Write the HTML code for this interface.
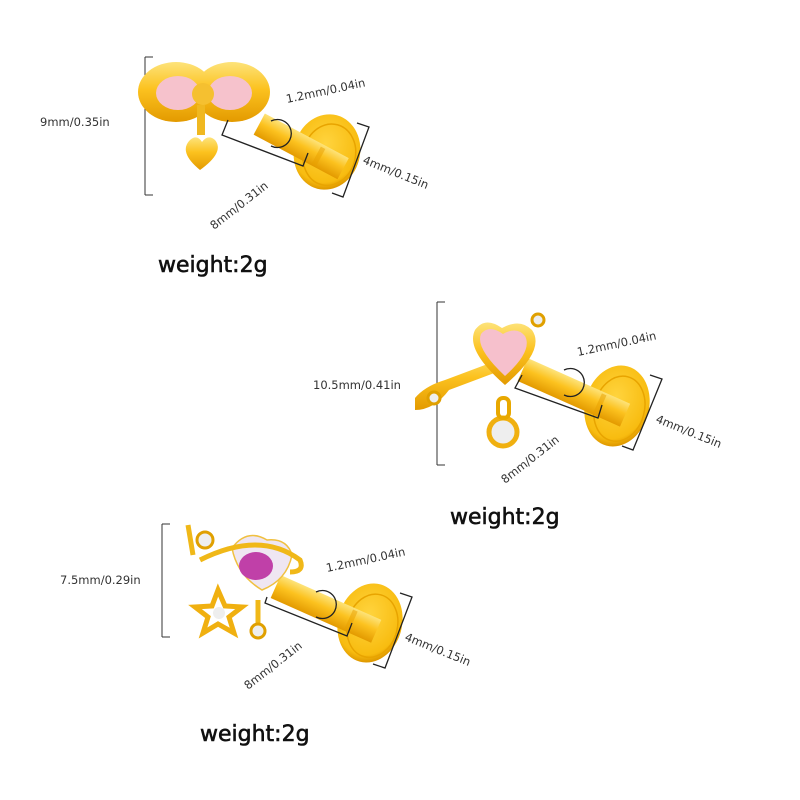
<!DOCTYPE html>
<html><head><meta charset="utf-8"><style>
html,body{margin:0;padding:0;background:#fff;}
svg{display:block}
text{font-family:"DejaVu Sans","Liberation Sans",sans-serif;fill:#333}
.s{font-size:11.5px}
.w{font-size:22px;fill:#111;stroke:#111;stroke-width:0.6}
.br{fill:none;stroke:#222;stroke-width:1.3}
</style></head><body>
<svg width="800" height="800" viewBox="0 0 800 800">
<defs>
<linearGradient id="g" x1="0" y1="0" x2="0" y2="1"><stop offset="0" stop-color="#fde37a"/><stop offset="0.45" stop-color="#fcc21f"/><stop offset="1" stop-color="#e39a00"/></linearGradient>
<radialGradient id="gd" cx="0.45" cy="0.4" r="0.6"><stop offset="0" stop-color="#ffd43e"/><stop offset="0.85" stop-color="#f8bc10"/><stop offset="1" stop-color="#e09a00"/></radialGradient>
</defs>
<g stroke="#333" stroke-width="1" fill="none">
<path d="M145 57V195M145 57h8M145 195h8"/>
<path d="M437 302V465M437 302h8M437 465h8"/>
<path d="M162 524V637M162 524h8M162 637h8"/>
</g>
<!-- product 1 -->
<ellipse cx="327" cy="152" rx="33" ry="38" fill="url(#gd)" transform="rotate(15 327 152)"/>
<ellipse cx="330" cy="154" rx="26" ry="31" fill="none" stroke="#e8a400" stroke-width="1.5" transform="rotate(15 327 152)"/>
<g transform="translate(263,117) rotate(28)"><rect x="0" y="-4" width="95" height="24" fill="url(#g)"/><rect x="65" y="-1" width="5" height="20" fill="#e8a000" opacity="0.5"/></g>
<ellipse cx="176" cy="92" rx="38" ry="30" fill="url(#g)"/>
<ellipse cx="232" cy="92" rx="38" ry="30" fill="url(#g)"/>
<ellipse cx="178" cy="93" rx="22" ry="17" fill="#f6c2cc"/><ellipse cx="230" cy="93" rx="22" ry="17" fill="#f6c2cc"/>
<circle cx="203" cy="94" r="11" fill="#f5c030"/>
<rect x="197" y="105" width="8" height="30" fill="#f0b820"/>
<path d="M200 170 q-22 -18 -10 -30 q7 -6 12 2 q6 -8 13 -2 q10 12 -15 30z" fill="url(#g)"/>
<polyline class="br" points="228,120 222,135 303,166 308,153"/>
<path class="br" d="M271 121 a14 14 0 1 1 0 25"/>
<polyline class="br" points="357,123 369,127 343,197 332,193"/>
<text class="s" x="287" y="103" transform="rotate(-12 287 103)">1.2mm/0.04in</text>
<text class="s" x="40" y="126">9mm/0.35in</text>
<text class="s" x="362" y="163" transform="rotate(22 362 163)">4mm/0.15in</text>
<text class="s" x="214" y="230" transform="rotate(-38 214 230)">8mm/0.31in</text>
<text class="w" x="158" y="272">weight:2g</text>
<!-- product 2 -->
<ellipse cx="617" cy="406" rx="32" ry="41" fill="url(#gd)" transform="rotate(15 617 406)"/>
<ellipse cx="620" cy="408" rx="25" ry="33" fill="none" stroke="#e8a400" stroke-width="1.5" transform="rotate(15 617 406)"/>
<g transform="translate(527,360) rotate(24)"><rect x="0" y="-2" width="112" height="25" fill="url(#g)"/><rect x="82" y="0" width="5" height="21" fill="#e8a000" opacity="0.5"/></g>
<path d="M415 398 q10 -12 30 -18 l80 -30 l4 10 -80 30 q-15 20 -34 20z" fill="url(#g)"/>
<circle cx="434" cy="398" r="6" fill="#eee" stroke="#e0a000" stroke-width="3"/>
<path d="M505 385 q-40 -35 -30 -55 q10 -14 27 -2 q18 -10 30 2 q14 20 -27 55z" fill="url(#g)"/>
<path d="M505 376 q-30 -28 -24 -42 q8 -10 22 0 q14 -8 22 2 q8 15 -20 40z" fill="#f6c0cc"/>
<circle cx="538" cy="320" r="6" fill="#eee" stroke="#e0a000" stroke-width="3"/>
<circle cx="503" cy="432" r="14" fill="#eee" stroke="#f0b010" stroke-width="5"/>
<rect x="498" y="398" width="11" height="20" rx="5" fill="none" stroke="#e8a800" stroke-width="4"/>
<polyline class="br" points="522,375 515,388 598,418 602,405"/>
<path class="br" d="M564 370 a14 14 0 1 1 0 25"/>
<polyline class="br" points="650,375 662,379 633,450 622,446"/>
<text class="s" x="578" y="356" transform="rotate(-12 578 356)">1.2mm/0.04in</text>
<text class="s" x="313" y="389">10.5mm/0.41in</text>
<text class="s" x="655" y="422" transform="rotate(22 655 422)">4mm/0.15in</text>
<text class="s" x="505" y="484" transform="rotate(-38 505 484)">8mm/0.31in</text>
<text class="w" x="450" y="524">weight:2g</text>
<!-- product 3 -->
<ellipse cx="370" cy="623" rx="32" ry="40" fill="url(#gd)" transform="rotate(15 370 623)"/>
<ellipse cx="373" cy="625" rx="25" ry="32" fill="none" stroke="#e8a400" stroke-width="1.5" transform="rotate(15 370 623)"/>
<g transform="translate(280,577) rotate(24)"><rect x="0" y="-2" width="110" height="25" fill="url(#g)"/><rect x="80" y="0" width="5" height="21" fill="#e8a000" opacity="0.5"/></g>
<path d="M232 548 q15 -20 35 -8 q20 -2 25 15 q-5 25 -30 35 q-25 -15 -30 -42z" fill="#efe6f2" stroke="#f0c040" stroke-width="1.5"/>
<ellipse cx="256" cy="566" rx="17" ry="14" fill="#c040a8"/>
<path d="M200 560 q60 -30 100 0 q5 12 -10 12" fill="none" stroke="#f0b818" stroke-width="5"/>
<path d="M188 525 l5 30" stroke="#f0b818" stroke-width="5"/>
<path d="M218 590 l7 16 17 1 -13 10 5 16 -16 -9 -15 9 5 -16 -13 -10 17 -1z" fill="none" stroke="#f0b010" stroke-width="5"/>
<circle cx="219" cy="613" r="6" fill="#eee"/>
<path d="M258 600 v28" stroke="#f0b818" stroke-width="5"/>
<circle cx="205" cy="540" r="8" fill="#eee" stroke="#e0a000" stroke-width="3"/>
<circle cx="258" cy="631" r="7" fill="#eee" stroke="#e0a000" stroke-width="3"/>
<polyline class="br" points="267,597 265,603 347,636 352,623"/>
<path class="br" d="M316 592 a14 14 0 1 1 0 25"/>
<polyline class="br" points="400,593 412,597 385,668 373,664"/>
<text class="s" x="327" y="572" transform="rotate(-12 327 572)">1.2mm/0.04in</text>
<text class="s" x="60" y="584">7.5mm/0.29in</text>
<text class="s" x="404" y="640" transform="rotate(22 404 640)">4mm/0.15in</text>
<text class="s" x="248" y="690" transform="rotate(-38 248 690)">8mm/0.31in</text>
<text class="w" x="200" y="741">weight:2g</text>
</svg>
</body></html>
